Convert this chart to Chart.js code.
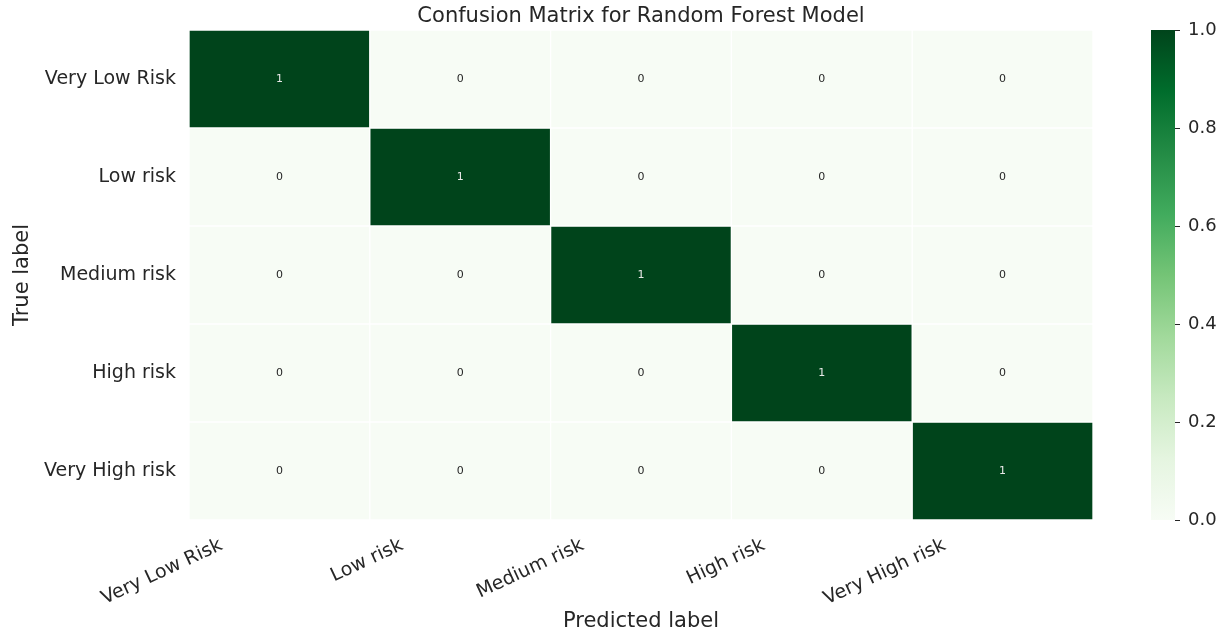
<!DOCTYPE html>
<html>
<head>
<meta charset="utf-8">
<title>Confusion Matrix for Random Forest Model</title>
<script src="https://cdn.jsdelivr.net/npm/chart.js@4.4.1/dist/chart.umd.min.js"></script>
<style>
  html, body { margin: 0; padding: 0; background: #ffffff; }
  #wrap { width: 1225px; height: 638px; }
</style>
</head>
<body>
<div id="wrap"><canvas id="cm" width="1225" height="638"></canvas></div>
<script>
// predicted classes (columns) and true classes (rows)
var predLabels = ['Very Low Risk', 'Low risk', 'Medium risk', 'High risk', 'Very High risk'];
var trueLabels = ['Very Low Risk', 'Low risk', 'Medium risk', 'High risk', 'Very High risk'];

// normalized confusion matrix, one row per true class
var confusion = [
    [1, 0, 0, 0, 0],
    [0, 1, 0, 0, 0],
    [0, 0, 1, 0, 0],
    [0, 0, 0, 1, 0],
    [0, 0, 0, 0, 1]
];

var colorbarTicks = [0, 0.2, 0.4, 0.6, 0.8, 1.0];

// matplotlib "Greens" colormap stops
var greensStops = ['#f7fcf5', '#e5f5e0', '#c7e9c0', '#a1d99b', '#74c476', '#41ab5d', '#238b45', '#006d2c', '#00441b'];

var chartTitle = 'Confusion Matrix for Random Forest Model';
var textColor = '#262626';
var fontFamily = '"DejaVu Sans", "Liberation Sans", sans-serif';

function hex_rgb(h) {
    return [parseInt(h.substr(1, 2), 16), parseInt(h.substr(3, 2), 16), parseInt(h.substr(5, 2), 16)];
}

function greens(v) {
    v = Math.max(0, Math.min(1, v));
    var pos = v * (greensStops.length - 1);
    var i = Math.min(Math.floor(pos), greensStops.length - 2);
    var t = pos - i;
    var a = hex_rgb(greensStops[i]), b = hex_rgb(greensStops[i + 1]);
    var c = a.map(function (x, k) { return Math.round(x + (b[k] - x) * t); });
    return 'rgb(' + c.join(',') + ')';
}

// one floating bar dataset per row, spanning [r, r+1] on the row axis
var datasets = [];
for (var r = 0; r < confusion.length; r++) {
    datasets.push({
        label: trueLabels[r],
        data: predLabels.map(function () { return [r, r + 1]; }),
        backgroundColor: confusion[r].map(greens),
        borderColor: '#ffffff',
        borderWidth: 1,
        borderSkipped: false,
        barPercentage: 1.0,
        categoryPercentage: 1.0,
        grouped: false
    });
}

// vertical axes add tick padding to their top/bottom overflow; drop it
function no_overflow(scale) {
    scale.paddingTop = 0;
    scale.paddingBottom = 0;
}

// cell annotations + title centred over the matrix
var annotatePlugin = {
    id: 'annotate',
    afterDatasetsDraw: function (chart) {
        var ctx = chart.ctx, xs = chart.scales.x, ys = chart.scales.y;
        var area = chart.chartArea;
        ctx.save();
        ctx.font = '11px ' + fontFamily;
        ctx.textAlign = 'center';
        ctx.textBaseline = 'middle';
        for (var i = 0; i < confusion.length; i++) {
            for (var j = 0; j < confusion[i].length; j++) {
                var v = confusion[i][j];
                ctx.fillStyle = v > 0.5 ? '#e8e8e8' : textColor;
                ctx.fillText(String(v), xs.getPixelForValue(j), ys.getPixelForValue(i + 0.5));
            }
        }
        ctx.font = '21px ' + fontFamily;
        ctx.fillStyle = textColor;
        ctx.fillText(chartTitle, (area.left + area.right) / 2, area.top - 13);
        ctx.restore();
    }
};

// colour bar drawn against the y2 scale
var colorbarPlugin = {
    id: 'colorbar',
    afterDatasetsDraw: function (chart) {
        var ctx = chart.ctx, s = chart.scales.y2;
        var x0 = s.left + 58, w = 24;
        var yTop = s.getPixelForValue(1), yBot = s.getPixelForValue(0);
        var grad = ctx.createLinearGradient(0, yBot, 0, yTop);
        for (var k = 0; k < greensStops.length; k++) {
            grad.addColorStop(k / (greensStops.length - 1), greensStops[k]);
        }
        ctx.save();
        ctx.fillStyle = grad;
        ctx.fillRect(x0, yTop, w, yBot - yTop);
        ctx.strokeStyle = textColor;
        ctx.lineWidth = 1;
        s.ticks.forEach(function (t) {
            var y = Math.round(s.getPixelForValue(t.value)) + 0.5;
            ctx.beginPath();
            ctx.moveTo(x0 + w, y);
            ctx.lineTo(x0 + w + 5, y);
            ctx.stroke();
        });
        ctx.restore();
    }
};

var ctx = document.getElementById('cm').getContext('2d');
var myChart = new Chart(ctx, {
    type: 'bar',
    data: { labels: predLabels, datasets: datasets },
    plugins: [annotatePlugin, colorbarPlugin],
    options: {
        responsive: false,
        animation: false,
        layout: { padding: { top: 30, left: 0, right: 0, bottom: 0 } },
        plugins: {
            legend: { display: false },
            tooltip: { enabled: false },
            title: { display: false }
        },
        scales: {
            x: {
                type: 'category',
                offset: true,
                grid: { display: false, drawTicks: false },
                border: { display: false },
                ticks: {
                    autoSkip: false,
                    minRotation: 25,
                    maxRotation: 25,
                    padding: 14,
                    labelOffset: -58,
                    color: textColor,
                    font: { family: fontFamily, size: 19 }
                },
                title: {
                    display: true,
                    text: 'Predicted label',
                    color: textColor,
                    font: { family: fontFamily, size: 21 },
                    padding: { top: 4, bottom: 4 }
                },
                afterFit: function (scale) { scale.height = 118; }
            },
            y: {
                type: 'linear',
                min: 0,
                max: trueLabels.length,
                reverse: true,
                grid: { display: false, drawTicks: false },
                border: { display: false },
                afterBuildTicks: function (axis) {
                    axis.ticks = trueLabels.map(function (_, i) { return { value: i + 0.5 }; });
                },
                ticks: {
                    padding: 13,
                    color: textColor,
                    font: { family: fontFamily, size: 19 },
                    callback: function (v) { return trueLabels[Math.floor(v)]; }
                },
                title: {
                    display: true,
                    text: 'True label',
                    color: textColor,
                    font: { family: fontFamily, size: 21 },
                    padding: { top: 10, bottom: 0 }
                },
                afterFit: function (scale) { scale.width = 189; no_overflow(scale); }
            },
            y2: {
                type: 'linear',
                position: 'right',
                min: 0,
                max: 1,
                grid: { display: false, drawTicks: false },
                border: { display: false },
                afterBuildTicks: function (axis) {
                    axis.ticks = colorbarTicks.map(function (v) { return { value: v }; });
                },
                ticks: {
                    padding: 95,
                    color: textColor,
                    font: { family: fontFamily, size: 18 },
                    callback: function (v) { return Number(v).toFixed(1); }
                },
                afterFit: function (scale) { scale.width = 132; no_overflow(scale); }
            }
        }
    }
});
</script>
</body>
</html>
